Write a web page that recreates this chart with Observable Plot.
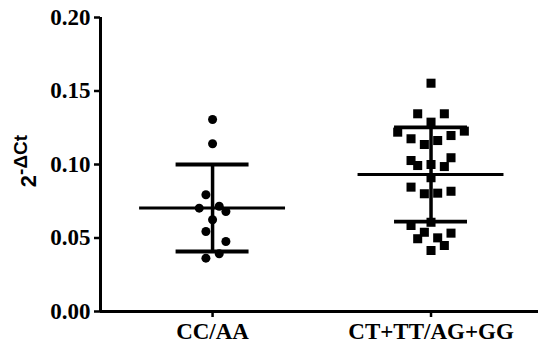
<!DOCTYPE html>
<html>
<head>
<meta charset="utf-8">
<script src="https://cdn.jsdelivr.net/npm/d3@7"></script>
<script src="https://cdn.jsdelivr.net/npm/@observablehq/plot@0.6"></script>
<style>
  html, body { margin: 0; padding: 0; background: #fff; }
</style>
</head>
<body>
<div id="chart"></div>
<script>
// ---- data ----
const groups = ["CC/AA", "CT+TT/AG+GG"];
const yTicks = [0, 0.05, 0.10, 0.15, 0.20];

// CC/AA values and their beeswarm column (-/+ around the group centre)
const ccaaValues = [0.1306, 0.1141, 0.0794, 0.0703, 0.0716, 0.0680, 0.0624, 0.0544, 0.0476, 0.0393, 0.0363];
const ccaaCols   = [0, 0, -1, -2, 1, 2, 0, -1, 2, 1, -1];

// CT+TT/AG+GG values and columns
const ctValues = [0.1553, 0.1345, 0.1345, 0.1288, 0.1220, 0.1227, 0.1175, 0.1197, 0.1136, 0.1163,
                  0.1027, 0.0993, 0.1000, 0.0986, 0.1046, 0.0910, 0.0846, 0.0801, 0.0805, 0.0818,
                  0.0585, 0.0607, 0.0539, 0.0495, 0.0501, 0.0533, 0.0449, 0.0415];
const ctCols   = [0, -2, 2, 0, -5, 5, -3, 3, -1, 1,
                  -3, -2, 0, 2, 3, 0, -3, -1, 1, 3,
                  -3, 0, -1, -2, 1, 3, 2, 0];

// mean and SD per group
const means = [0.0704, 0.0932];
const sds   = [0.0296, 0.0321];

// ---- build tables ----
const colStep = 0.0305;
const pts1 = ccaaValues.map((v, i) => ({g: 0, x: 0 + ccaaCols[i] * colStep, y: v}));
const pts2 = ctValues.map((v, i) => ({g: 1, x: 1 + ctCols[i] * colStep, y: v}));
const summary = groups.map((name, i) => ({g: i, mean: means[i], lo: means[i] - sds[i], hi: means[i] + sds[i]}));

const xDomain = [-0.513, 1.492];
const capHalf = 0.167, meanHalf = 0.334;
const font = "'Liberation Serif', 'Times New Roman', serif";

const chart = Plot.plot({
  width: 538,
  height: 348,
  marginLeft: 100,
  marginRight: 0,
  marginTop: 17,
  marginBottom: 37,
  style: {fontFamily: font, fontWeight: "bold", fontSize: "23px", color: "#000", background: "#fff"},
  x: {type: "linear", domain: xDomain, axis: null},
  y: {domain: [0, 0.2], axis: null},
  marks: [
    Plot.axisY(yTicks, {tickFormat: d3.format(".2f"), tickSize: 6, tickPadding: 4, strokeWidth: 2.5,
                        fontSize: 23, fontWeight: "bold", label: null}),
    Plot.axisX([0, 1], {tickFormat: i => groups[i], tickSize: 6, tickPadding: 5, strokeWidth: 2.5,
                        fontSize: 23, fontWeight: "bold", label: null}),
    Plot.ruleX([xDomain[0]], {strokeWidth: 3}),
    Plot.ruleY([0], {strokeWidth: 3}),
    // error bars (SD)
    Plot.ruleX(summary, {x: "g", y1: "lo", y2: "hi", strokeWidth: 3.5}),
    Plot.ruleY(summary, {y: "hi", x1: d => d.g - capHalf, x2: d => d.g + capHalf, strokeWidth: 3.8}),
    Plot.ruleY(summary, {y: "lo", x1: d => d.g - capHalf, x2: d => d.g + capHalf, strokeWidth: 3.8}),
    // mean line
    Plot.ruleY(summary, {y: "mean", x1: d => d.g - meanHalf, x2: d => d.g + meanHalf, strokeWidth: 3}),
    // points
    Plot.dot(pts1, {x: "x", y: "y", r: 4.5, fill: "#000", stroke: "none", symbol: "circle"}),
    Plot.dot(pts2, {x: "x", y: "y", r: 5.1, fill: "#000", stroke: "none", symbol: "square"})
  ]
});

document.getElementById("chart").appendChild(chart);

// y-axis title 2^-ΔCt (rotated)
const svg = d3.select(chart);
const t = svg.append("text")
  .attr("transform", "translate(36,161) rotate(-90)")
  .attr("text-anchor", "middle")
  .style("font-family", "'Liberation Sans', Arial, sans-serif")
  .style("font-weight", "bold")
  .style("font-size", "22px")
  .attr("fill", "#000");
t.append("tspan").text("2");
t.append("tspan").attr("dy", "-0.45em").style("font-size", "19px").text("-ΔCt");
</script>
</body>
</html>
